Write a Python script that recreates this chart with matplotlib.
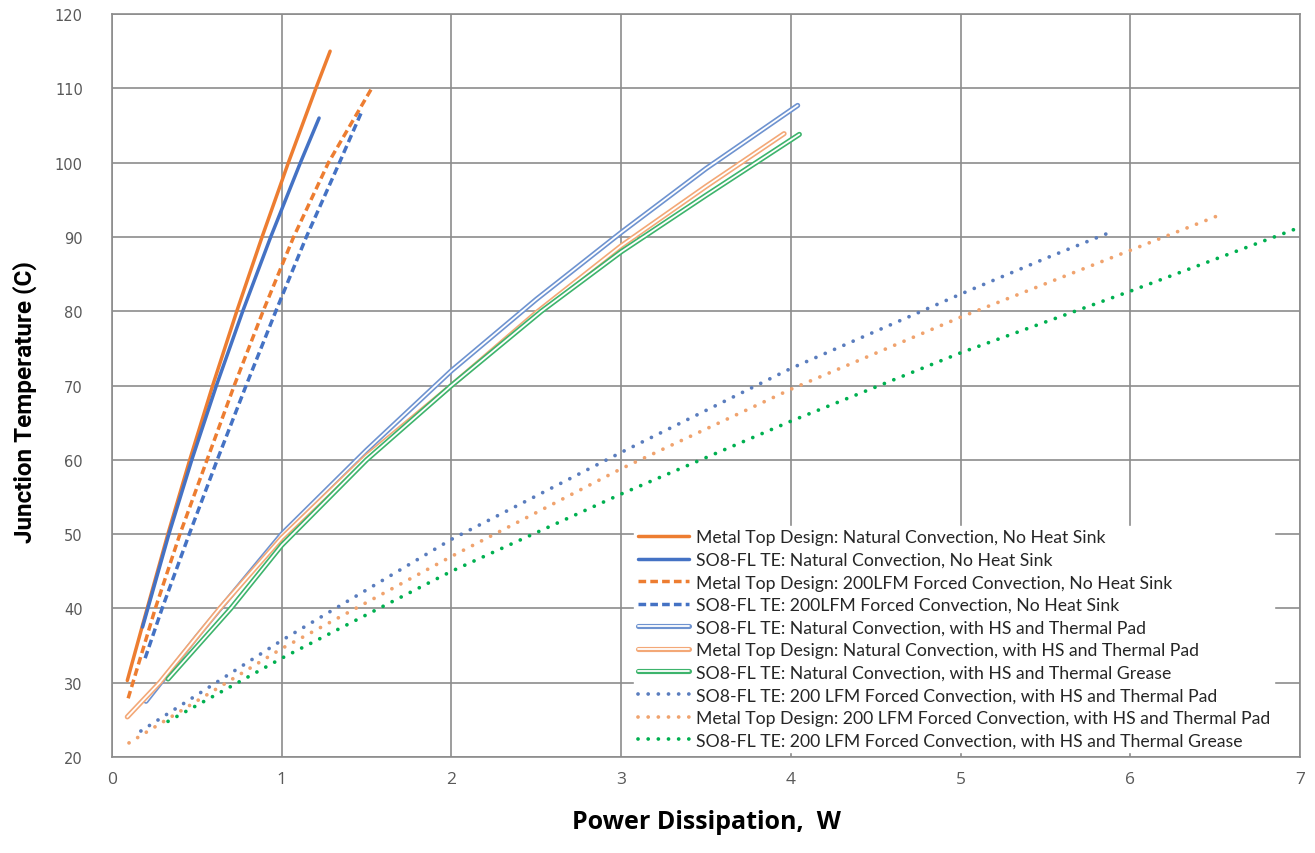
import numpy as np
import matplotlib
matplotlib.use("Agg")
import matplotlib.pyplot as plt
import matplotlib.patheffects as pe

# colours (Excel-like palette)
ORANGE = '#ED7D31'
BLUE = '#4472C4'
GREEN = '#00B050'
GRID = '#8C8C8C'

# --- data: power (W) vs junction temperature (C) ---
mt_nat_x = [0.09, 0.207, 0.329, 0.458, 0.593, 0.735, 0.884, 1.039, 1.201, 1.285]
mt_nat_y = [30.3, 40.0, 50.0, 60.0, 70.0, 80.0, 90.0, 100.0, 110.0, 115.0]

so8_nat_x = [0.18, 0.335, 0.470, 0.615, 0.770, 0.935, 1.110, 1.220]
so8_nat_y = [37.5, 50.0, 60.0, 70.0, 80.0, 90.0, 100.0, 106.0]

mt_200_x = [0.095, 0.255, 0.40, 0.56, 0.72, 0.89, 1.07, 1.275, 1.53]
mt_200_y = [27.9, 40.0, 50.0, 60.0, 70.0, 80.0, 90.0, 100.0, 110.0]

so8_200_x = [0.195, 0.295, 0.455, 0.62, 0.79, 0.965, 1.145, 1.34, 1.47]
so8_200_y = [33.3, 40.0, 50.0, 60.0, 70.0, 80.0, 90.0, 100.0, 106.8]

so8_nat_pad_x = [0.20, 0.50, 1.00, 1.50, 2.00, 2.50, 3.00, 3.50, 4.04]
so8_nat_pad_y = [27.5, 36.2, 50.0, 61.3, 72.0, 81.6, 90.6, 99.2, 107.7]

mt_nat_pad_x = [0.09, 0.28, 0.635, 1.00, 1.50, 2.00, 2.50, 3.00, 3.50, 3.96]
mt_nat_pad_y = [25.4, 30.0, 40.0, 49.5, 60.5, 70.0, 79.8, 88.8, 96.8, 103.9]

so8_nat_grease_x = [0.33, 0.70, 1.00, 1.50, 2.00, 2.53, 3.00, 3.50, 4.05]
so8_nat_grease_y = [30.5, 40.0, 48.5, 60.0, 70.0, 80.0, 88.0, 95.6, 103.8]

so8_200_pad_x = [0.17, 1.0, 2.0, 3.0, 4.0, 5.0, 5.51, 5.89]
so8_200_pad_y = [23.5, 35.7, 49.3, 61.0, 72.3, 82.3, 87.2, 90.7]

mt_200_pad_x = [0.10, 1.0, 2.0, 3.0, 4.0, 5.0, 6.0, 6.51]
mt_200_pad_y = [21.9, 34.6, 47.0, 58.8, 69.5, 79.2, 88.2, 92.8]

so8_200_grease_x = [0.33, 1.0, 2.0, 3.0, 4.0, 5.0, 6.0, 7.0]
so8_200_grease_y = [24.8, 33.3, 45.0, 55.4, 65.2, 74.4, 82.7, 91.3]

labels = [
    'Metal Top Design: Natural Convection, No Heat Sink',
    'SO8-FL TE: Natural Convection, No Heat Sink',
    'Metal Top Design: 200LFM Forced Convection, No Heat Sink',
    'SO8-FL TE: 200LFM Forced Convection, No Heat Sink',
    'SO8-FL TE: Natural Convection, with HS and Thermal Pad',
    'Metal Top Design: Natural Convection, with HS and Thermal Pad',
    'SO8-FL TE: Natural Convection, with HS and Thermal Grease',
    'SO8-FL TE: 200 LFM Forced Convection, with HS and Thermal Pad',
    'Metal Top Design: 200 LFM Forced Convection, with HS and Thermal Pad',
    'SO8-FL TE: 200 LFM Forced Convection, with HS and Thermal Grease',
]

xticks = [0, 1, 2, 3, 4, 5, 6, 7]
yticks = [20, 30, 40, 50, 60, 70, 80, 90, 100, 110, 120]

fig = plt.figure(figsize=(13.15, 8.54), dpi=100)
ax = fig.add_axes([0.0852, 0.1124, 0.9034, 0.8700])

handles = []

# thick solid / dashed (no heat sink)
h, = ax.plot(mt_nat_x, mt_nat_y, color=ORANGE, lw=2.5, solid_capstyle='round')
handles.append(h)
h, = ax.plot(so8_nat_x, so8_nat_y, color=BLUE, lw=2.5, solid_capstyle='round')
handles.append(h)
h, = ax.plot(mt_200_x, mt_200_y, color=ORANGE, lw=2.5, ls=(0, (2.2, 1.2)))
handles.append(h)
h, = ax.plot(so8_200_x, so8_200_y, color=BLUE, lw=2.5, ls=(0, (2.2, 1.2)))
handles.append(h)

# double (compound) lines: white core drawn over a coloured stroke
def double_line(x, y, color):
    line, = ax.plot(x, y, color='white', lw=1.3, solid_capstyle='round',
                    path_effects=[pe.Stroke(linewidth=3.7, foreground=color,
                                            capstyle='round'), pe.Normal()])
    return line

handles.append(double_line(so8_nat_pad_x, so8_nat_pad_y, '#6E93D0'))
handles.append(double_line(mt_nat_pad_x, mt_nat_pad_y, '#F3A877'))
handles.append(double_line(so8_nat_grease_x, so8_nat_grease_y, '#3DB46C'))

# dotted (200 LFM with heat sink)
dots = (0, (0.01, 2.7))
h, = ax.plot(so8_200_pad_x, so8_200_pad_y, color='#5A7DBE', lw=2.7, ls=dots, dash_capstyle='round')
handles.append(h)
h, = ax.plot(mt_200_pad_x, mt_200_pad_y, color='#F0A36E', lw=2.7, ls=dots, dash_capstyle='round')
handles.append(h)
h, = ax.plot(so8_200_grease_x, so8_200_grease_y, color=GREEN, lw=2.7, ls=dots, dash_capstyle='round')
handles.append(h)

ax.set_xlim(0, 7)
ax.set_ylim(20, 120)
ax.set_xticks(xticks)
ax.set_yticks(yticks)
ax.grid(True, color=GRID, lw=1.2)
ax.set_axisbelow(True)
for s in ax.spines.values():
    s.set_color(GRID)
    s.set_linewidth(1.2)
ax.tick_params(length=0)
ax.tick_params(axis='y', pad=21, labelcolor='#595959')
ax.tick_params(axis='x', pad=10, labelcolor='#595959')
for t in ax.get_yticklabels():
    t.set_fontfamily('DejaVu Sans')
    t.set_fontsize(10.5)
for t in ax.get_xticklabels():
    t.set_fontfamily('Open Sans')
    t.set_fontsize(12.5)

ax.set_xlabel('Power Dissipation,  W', fontsize=18, fontweight='bold',
              family=['Open Sans', 'DejaVu Sans'], labelpad=16)
fig.text(0.019, 0.529, 'Junction Temperature (C)', rotation=90, fontsize=17.5,
         fontweight='bold', family=['Roboto', 'DejaVu Sans'], ha='center', va='center')

leg = ax.legend(handles, labels, loc='upper left', bbox_to_anchor=(0.4397, 0.311),
                prop={'family': 'Lato', 'size': 12.7}, frameon=True, framealpha=1,
                edgecolor='white', fancybox=False, labelspacing=0.37,
                handlelength=2.9, handletextpad=0.4, borderpad=0.2, borderaxespad=0)
for t in leg.get_texts():
    t.set_color('#262626')

fig.savefig('out.png', dpi=100)
